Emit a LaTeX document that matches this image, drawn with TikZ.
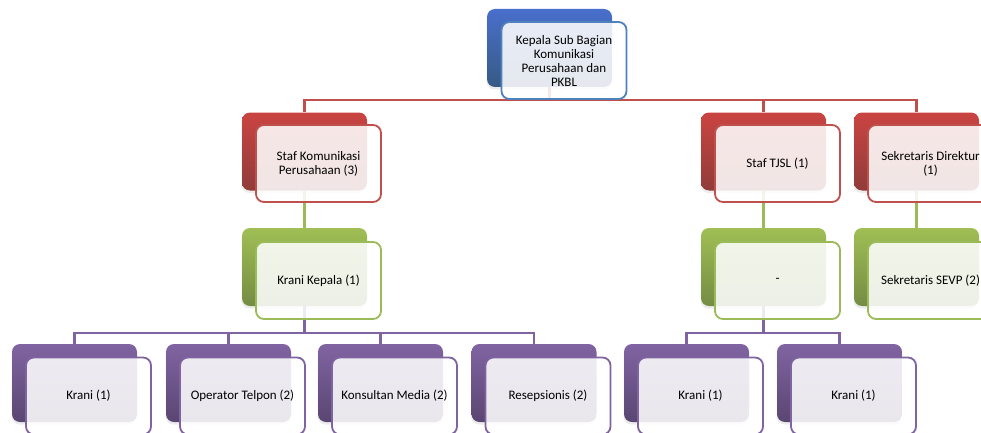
\documentclass[tikz,border=0pt]{standalone}
\usepackage{fontspec}
\setmainfont{Carlito}
\usetikzlibrary{backgrounds,shadows}

\definecolor{kpblue}{HTML}{4F81BD}
\definecolor{kpred}{HTML}{C0504D}
\definecolor{kpgreen}{HTML}{9BBB59}
\definecolor{kppurple}{HTML}{8064A2}

\begin{document}
\begin{tikzpicture}[x=1pt,y=-1pt,
  every node/.style={font=\fontsize{13}{14}\selectfont},
  back/.style={rounded corners=8pt,minimum width=125pt,minimum height=78pt,inner sep=0pt,
    drop shadow={opacity=0.15,shadow xshift=-0.5pt,shadow yshift=-2.5pt}},
  front/.style={draw,line width=1.8pt,rounded corners=8pt,fill=white,fill opacity=0.87,
    text opacity=1,text=black,minimum width=125pt,minimum height=77pt,inner sep=2pt,align=center},
  blueback/.style={back,top color=kpblue!80!blue!95!white,bottom color=kpblue!70!black},
  redback/.style={back,top color=kpred!85!red,bottom color=kpred!75!black},
  greenback/.style={back,top color=kpgreen!95!yellow,bottom color=kpgreen!75!black},
  purpleback/.style={back,top color=kppurple,bottom color=kppurple!70!black},
  bluefront/.style={front,draw=kpblue},
  redfront/.style={front,draw=kpred},
  greenfront/.style={front,draw=kpgreen},
  purplefront/.style={front,draw=kppurple},
  redline/.style={draw=kpred,line width=2.2pt},
  greenline/.style={draw=kpgreen,line width=2.2pt},
  purpleline/.style={draw=kppurple,line width=2.2pt}]
\useasboundingbox (0,0) rectangle (981,433);

% kepala
\node[blueback] (kepalaB) at (549.5,48) {};
\node[bluefront] (kepala) at (564,60.5) {Kepala Sub Bagian\\Komunikasi\\Perusahaan dan\\PKBL};

% staf
\node[redback] (stafkomB) at (304.5,151.5) {};
\node[redfront] (stafkom) at (318.5,163.5) {Staf Komunikasi\\Perusahaan (3)};
\node[redback] (tjslB) at (763.5,151.5) {};
\node[redfront] (tjsl) at (777.5,163.5) {Staf TJSL (1)};
\node[redback] (sekdirB) at (916.5,151.5) {};
\node[redfront] (sekdir) at (930.5,163.5) {Sekretaris Direktur\\(1)};

% krani kepala, -, sevp
\node[greenback] (kkB) at (304.5,267) {};
\node[greenfront] (kk) at (318.5,280.5) {Krani Kepala (1)};
\node[greenback] (dashB) at (763.5,267) {};
\node[greenfront] (dash) at (777.5,280.5) {-};
\node[greenback] (sevpB) at (916.5,267) {};
\node[greenfront] (sevp) at (930.5,280.5) {Sekretaris SEVP (2)};

% bawah
\node[purpleback] (kraniAB) at (74.5,383) {};
\node[purplefront] (kraniA) at (88.5,396) {Krani (1)};
\node[purpleback] (operatorB) at (228.5,383) {};
\node[purplefront] (operator) at (242.5,396) {Operator Telpon (2)};
\node[purpleback] (konsultanB) at (380.5,383) {};
\node[purplefront] (konsultan) at (394.5,396) {Konsultan Media (2)};
\node[purpleback] (resepsionisB) at (534,383) {};
\node[purplefront] (resepsionis) at (548,396) {Resepsionis (2)};
\node[purpleback] (kraniBB) at (686.5,383) {};
\node[purplefront] (kraniB) at (700.5,396) {Krani (1)};
\node[purpleback] (kraniCB) at (839.5,383) {};
\node[purplefront] (kraniC) at (853.5,396) {Krani (1)};

\coordinate (bus1) at (549.5,100);
\coordinate (bus2) at (304.5,333);
\coordinate (bus3) at (763.5,333);

\begin{scope}[on background layer]
\draw[redline] (kepalaB.south) -- (bus1) -| (stafkomB.north);
\draw[redline] (bus1) -| (tjslB.north);
\draw[redline] (bus1) -| (sekdirB.north);
\draw[greenline] (stafkomB.south) -- (kkB.north);
\draw[greenline] (tjslB.south) -- (dashB.north);
\draw[greenline] (sekdirB.south) -- (sevpB.north);
\draw[purpleline] (kkB.south) -- (bus2) -| (kraniAB.north);
\draw[purpleline] (bus2) -| (operatorB.north);
\draw[purpleline] (bus2) -| (konsultanB.north);
\draw[purpleline] (bus2) -| (resepsionisB.north);
\draw[purpleline] (dashB.south) -- (bus3) -| (kraniBB.north);
\draw[purpleline] (bus3) -| (kraniCB.north);
\end{scope}
\end{tikzpicture}
\end{document}
